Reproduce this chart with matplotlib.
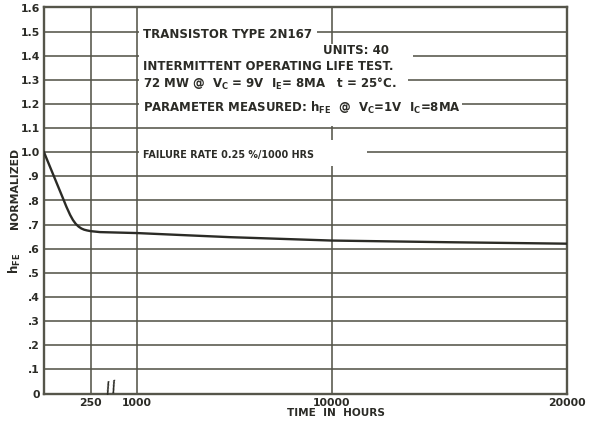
import numpy as np
import matplotlib
matplotlib.use("Agg")
import matplotlib.pyplot as plt
from matplotlib.patches import Rectangle

plt.rcParams['font.family'] = ['DejaVu Sans']
plt.rcParams['mathtext.fontset'] = 'dejavusans'
plt.rcParams['mathtext.default'] = 'bf'

# ---- data ----
hours = [0, 25, 50, 75, 100, 120, 140, 155, 170, 185, 200, 215, 230, 250,
         400, 1000, 3000, 5300, 10000, 15000, 20000]
hfe_norm = [1.0, 0.953, 0.906, 0.859, 0.812, 0.774, 0.740, 0.719, 0.703, 0.692,
            0.684, 0.679, 0.676, 0.673, 0.669, 0.665, 0.657, 0.648, 0.634, 0.627, 0.621]

x_ticks = [250, 1000, 10000, 20000]
x_tick_labels = ["250", "1000", "10000", "20000"]
y_ticks = [round(0.1 * i, 1) for i in range(17)]
y_tick_labels = ["0", ".1", ".2", ".3", ".4", ".5", ".6", ".7", ".8", ".9",
                 "1.0", "1.1", "1.2", "1.3", "1.4", "1.5", "1.6"]

# broken (piecewise) time axis
scale_hours = [0, 250, 1000, 10000, 20000]
scale_pos = [0.0, 46.7, 93.3, 287.7, 523.3]

def fwd(x):
    return np.interp(x, scale_hours, scale_pos)

def inv(p):
    return np.interp(p, scale_pos, scale_hours)

ink = "#2b2b26"
grid_c = "#55554a"

fig = plt.figure(figsize=(5.9, 4.23), dpi=100)
ax = fig.add_axes([44 / 590, (423 - 393.5) / 423, (567.3 - 44) / 590, 386 / 423])
ax.set_xscale('function', functions=(fwd, inv))
ax.set_xlim(0, 20000)
ax.set_ylim(0, 1.6)

for s in ax.spines.values():
    s.set_color(grid_c)
    s.set_linewidth(1.7)

for y in y_ticks[1:-1]:
    ax.axhline(y, color=grid_c, lw=1.15, zorder=1)
for x in x_ticks[:-1]:
    ax.axvline(x, color=grid_c, lw=1.15, zorder=1)

ax.plot(hours, hfe_norm, color=ink, lw=1.7, zorder=3, solid_joinstyle='round')

ax.set_xticks(x_ticks)
ax.set_xticklabels(x_tick_labels)
ax.set_yticks(y_ticks)
ax.set_yticklabels(y_tick_labels)
ax.tick_params(axis='both', length=0, labelsize=7.8, colors=ink, pad=3)
for lab in ax.get_xticklabels() + ax.get_yticklabels():
    lab.set_fontweight('bold')
ax.minorticks_off()

# white areas behind the note text (pixel -> axes fraction)
def px_rect(x0, y0, x1, y1):
    ax0 = (x0 - 44) / (567.3 - 44)
    ax1 = (x1 - 44) / (567.3 - 44)
    ay0 = (393.5 - y1) / 386
    ay1 = (393.5 - y0) / 386
    ax.add_patch(Rectangle((ax0, ay0), ax1 - ax0, ay1 - ay0, transform=ax.transAxes,
                           facecolor='white', edgecolor='none', zorder=2))

px_rect(138.5, 18, 317, 44)
px_rect(138.5, 44, 330, 126)
px_rect(329, 44, 413, 66)
px_rect(329, 66, 408, 94)
px_rect(329, 94, 462, 126)
px_rect(138.5, 140, 367, 166)

def ftext(px, py, s, size=8.5, ha='left'):
    fig.text(px / 590, 1 - py / 423, s, fontsize=size, fontweight='bold',
             color=ink, ha=ha, va='center', zorder=5)

ftext(143, 35, "TRANSISTOR TYPE 2N167")
ftext(323, 50, "UNITS: 40")
ftext(143, 66, "INTERMITTENT OPERATING LIFE TEST.")
ftext(143, 84, r"72 MW @  V$_{C}$ = 9V  I$_{E}$= 8MA   t = 25°C.")
ftext(143, 108, r"PARAMETER MEASURED: h$_{FE}$  @  V$_{C}$=1V  I$_{C}$=8MA")
ftext(143, 155, "FAILURE RATE 0.25 %/1000 HRS", size=6.9)

# axis break mark
fig.text(111 / 590, 1 - 388 / 423, "//", fontsize=11.5, fontweight='bold', color=ink,
         ha='center', va='center', rotation=14)

# axis titles
fig.text(336 / 590, 1 - 413 / 423, "TIME  IN  HOURS", fontsize=7.6, fontweight='bold',
         color=ink, ha='center', va='center')
fig.text(15 / 590, 1 - 188 / 423, "NORMALIZED", fontsize=7.8, fontweight='bold',
         color=ink, ha='center', va='center', rotation=90)
fig.text(15 / 590, 1 - 263 / 423, r"h$_{FE}$", fontsize=8.5, fontweight='bold',
         color=ink, ha='center', va='center', rotation=90)

fig.savefig("out.png", dpi=100, facecolor='white')
